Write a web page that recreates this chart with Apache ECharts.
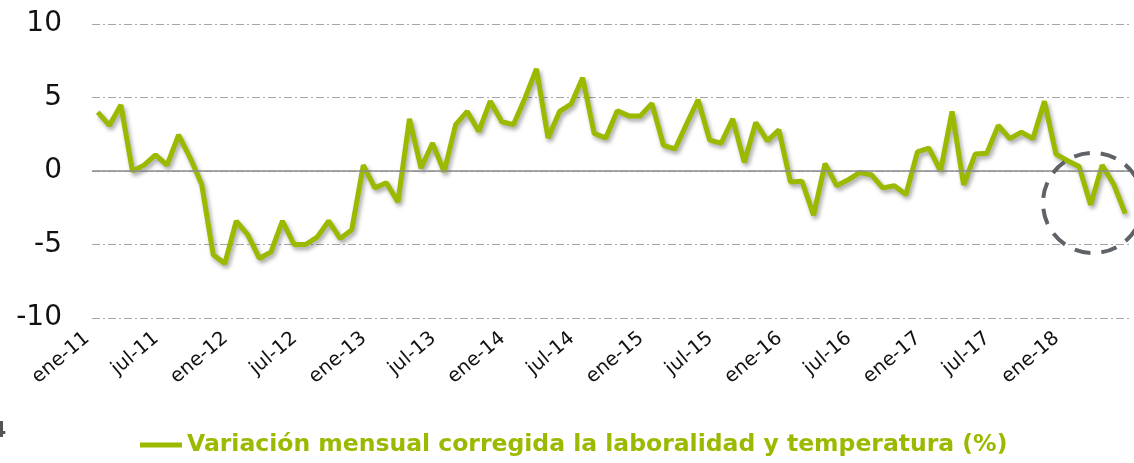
<!DOCTYPE html>
<html>
<head>
<meta charset="utf-8">
<script src="https://cdn.jsdelivr.net/npm/echarts@6/dist/echarts.min.js"></script>
<style>
  html, body { margin: 0; padding: 0; background: #fff; }
  #chart { width: 1134px; height: 463px; }
</style>
</head>
<body>
<div id="chart"></div>
<script>
// meses y años del eje X
const monthNames = ['ene', 'feb', 'mar', 'abr', 'may', 'jun', 'jul', 'ago', 'sep', 'oct', 'nov', 'dic']
const years = ['11', '12', '13', '14', '15', '16', '17', '18']

// variación mensual (%) desde ene-11 hasta jun-18
const variacion = [
  4.0, 3.1, 4.5, 0.0, 0.4, 1.1, 0.4, 2.45, 0.9, -0.9, -5.7, -6.3,
  -3.4, -4.35, -5.95, -5.5, -3.4, -5.0, -5.0, -4.5, -3.4, -4.6, -4.0, 0.4,
  -1.15, -0.8, -2.1, 3.55, 0.2, 1.9, -0.05, 3.15, 4.05, 2.7, 4.75, 3.35,
  3.15, 4.95, 6.95, 2.25, 4.05, 4.55, 6.35, 2.55, 2.25, 4.1, 3.75, 3.75,
  4.6, 1.75, 1.5, 3.2, 4.85, 2.1, 1.9, 3.55, 0.6, 3.3, 2.05, 2.8,
  -0.75, -0.7, -3.0, 0.5, -1.0, -0.6, -0.1, -0.25, -1.15, -1.0, -1.6, 1.3,
  1.55, 0.0, 4.05, -0.95, 1.15, 1.2, 3.1, 2.2, 2.65, 2.2, 4.75, 1.15,
  0.7, 0.3, -2.3, 0.4, -0.9, -2.9
]

const yTicks = [-10, -5, 0, 5, 10]
const serieName = 'Variación mensual corregida la laboralidad y temperatura (%)'

let categories = []
years.forEach(y => {
  monthNames.forEach(m => categories.push(m + '-' + y))
})
categories = categories.slice(0, variacion.length)

const chart = echarts.init(document.getElementById('chart'))
const green = '#9aba00'
const font = 'DejaVu Sans'

const option = {
  animation: false,
  grid: {
    left: 92,
    right: 3,
    top: 24,
    bottom: 145
  },
  legend: {
    data: [serieName],
    bottom: 1,
    left: 135,
    icon: 'rect',
    itemWidth: 42,
    itemHeight: 5,
    itemGap: 0,
    textStyle: {
      fontFamily: font,
      fontSize: 23.5,
      fontWeight: 'bold',
      color: green
    }
  },
  xAxis: {
    type: 'category',
    data: categories,
    boundaryGap: true,
    axisLine: { show: false },
    axisTick: { show: false },
    axisLabel: {
      interval: 5,
      rotate: 40,
      margin: 9,
      padding: [0, 14, 0, 0],
      fontFamily: font,
      fontSize: 19.5,
      color: '#111'
    },
    splitLine: { show: false }
  },
  yAxis: {
    type: 'value',
    min: yTicks[0],
    max: yTicks[yTicks.length - 1],
    interval: 5,
    axisLine: { show: false },
    axisTick: { show: false },
    axisLabel: {
      margin: 30,
      fontFamily: font,
      fontSize: 28,
      color: '#111'
    },
    splitLine: {
      lineStyle: {
        color: '#a6a6a6',
        width: 1,
        type: [8, 3, 2, 3]
      }
    }
  },
  series: [
    {
      // linea del cero, por debajo de la serie
      type: 'line',
      data: [],
      z: 1,
      silent: true,
      markLine: {
        silent: true,
        symbol: ['none', 'none'],
        label: { show: false },
        lineStyle: { color: '#8c8c8c', type: 'solid', width: 1.5 },
        data: [{ yAxis: 0 }]
      }
    },
    {
      name: serieName,
      type: 'line',
      data: variacion,
      z: 3,
      symbol: 'none',
      itemStyle: { color: green },
      lineStyle: {
        color: green,
        width: 5,
        shadowColor: 'rgba(0,0,0,0.35)',
        shadowBlur: 4,
        shadowOffsetX: 2,
        shadowOffsetY: 3
      }
    }
  ],
  graphic: [
    {
      type: 'circle',
      shape: { cx: 1093, cy: 203, r: 50 },
      style: {
        fill: 'none',
        stroke: '#5f6368',
        lineWidth: 4,
        lineDash: [16, 11]
      },
      z: 10
    },
    {
      type: 'text',
      left: -9,
      top: 420,
      style: {
        text: '4',
        fontFamily: font,
        fontSize: 22,
        fontWeight: 'bold',
        fill: '#555'
      }
    }
  ]
}

chart.setOption(option)
window.addEventListener('resize', () => {
  chart.resize()
})
</script>
</body>
</html>
